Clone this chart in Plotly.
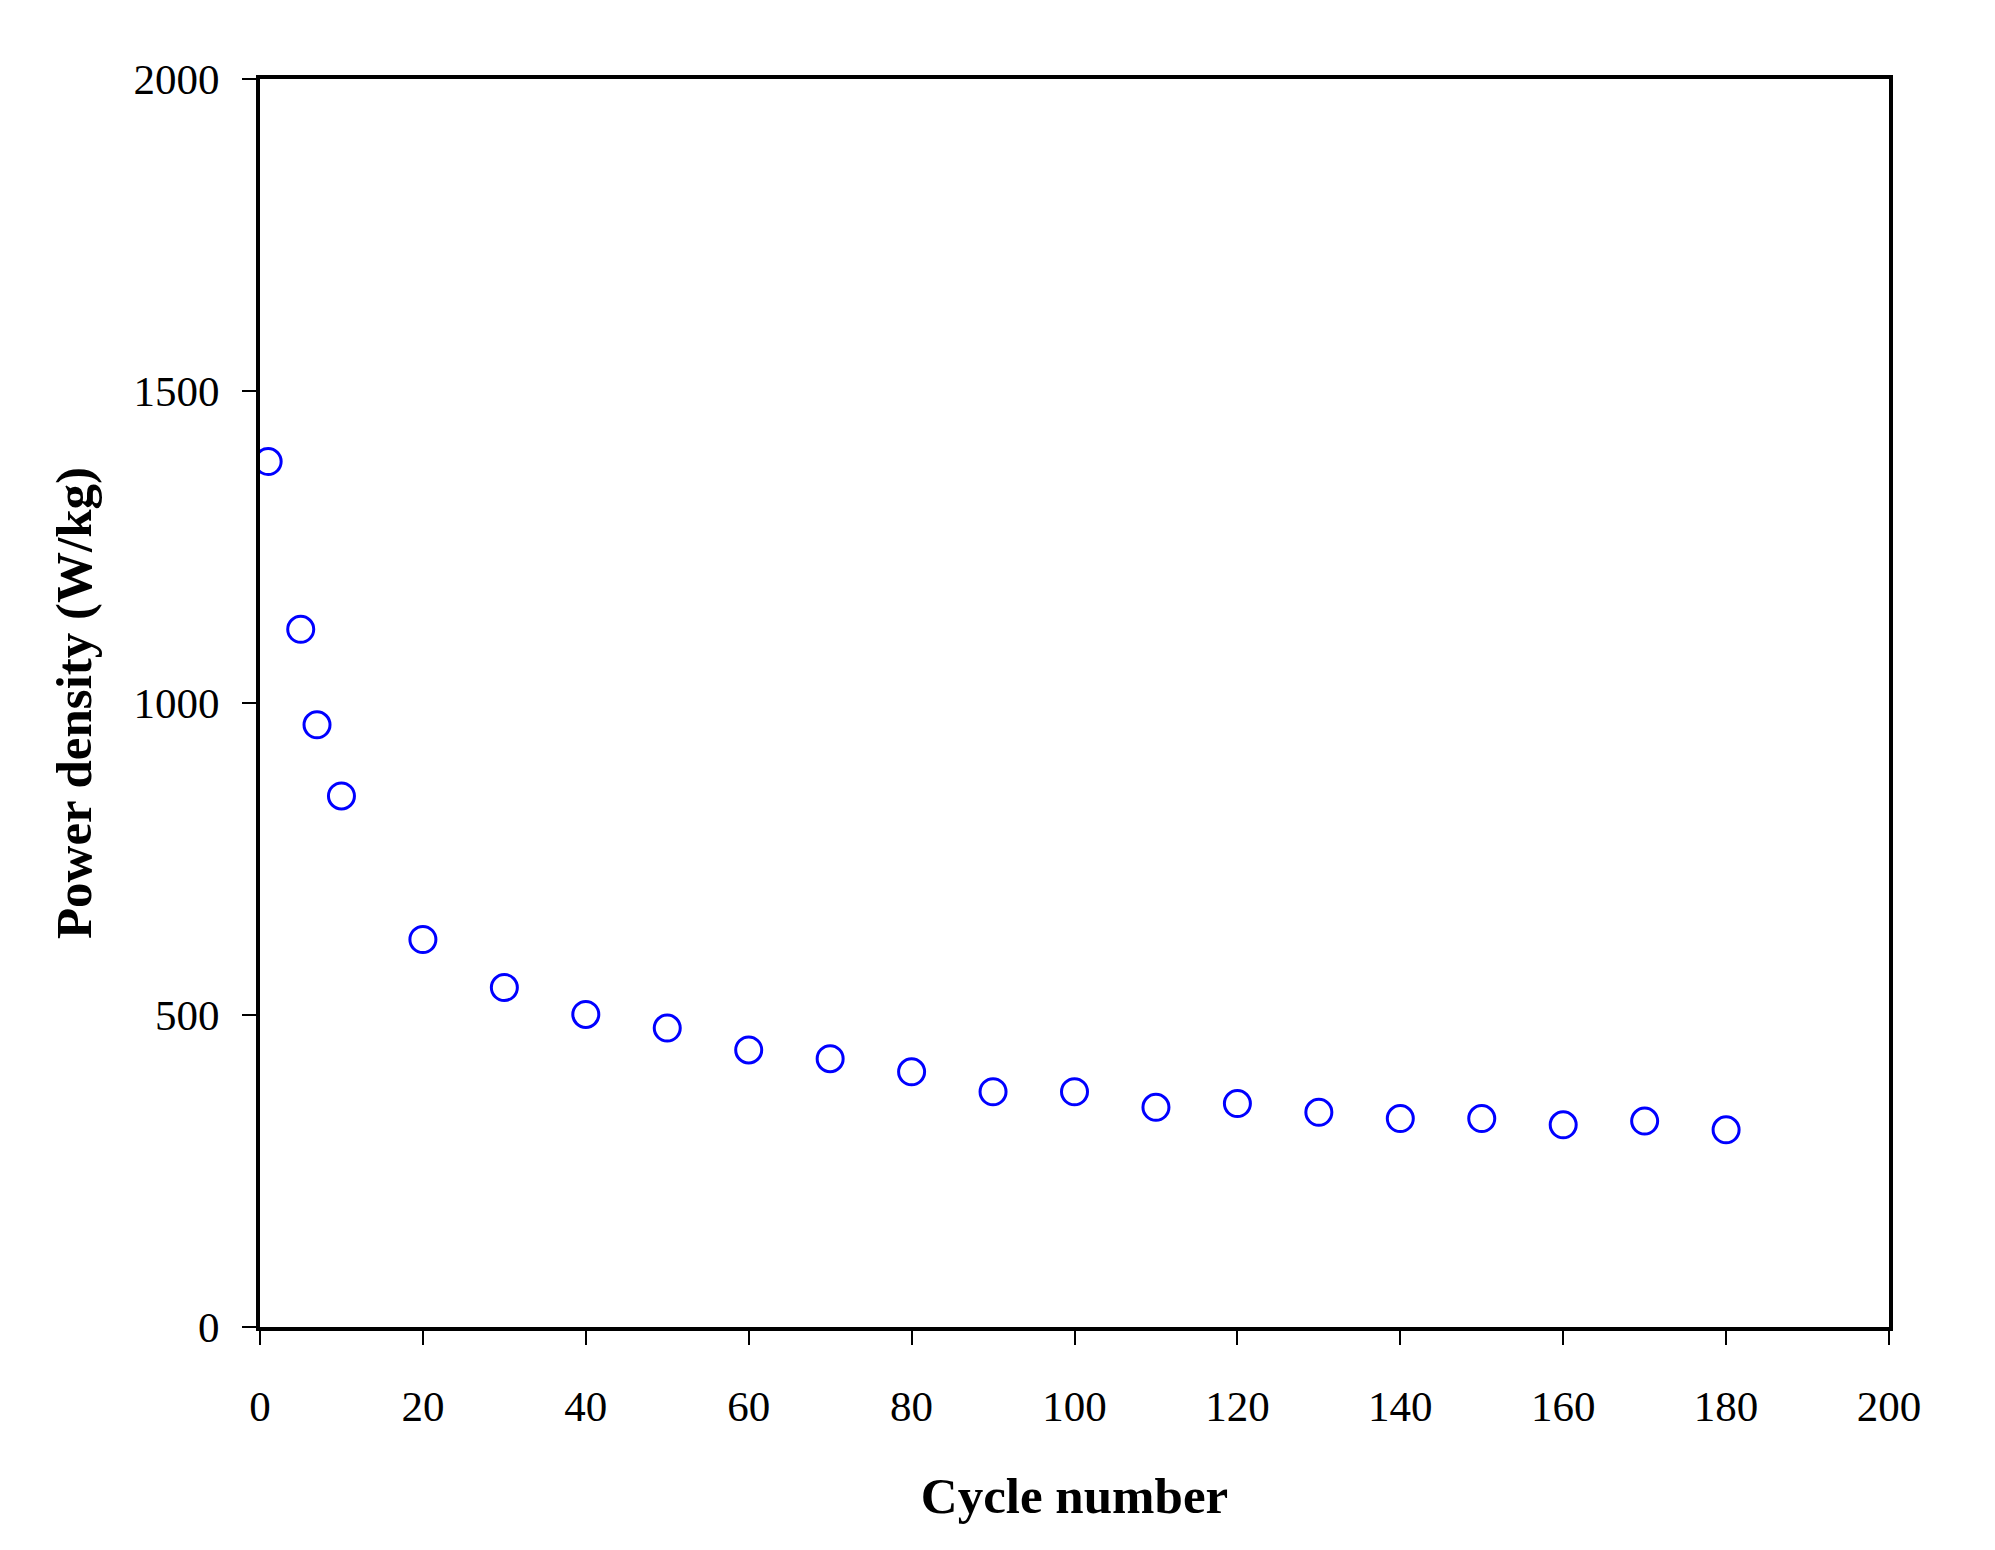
import plotly.graph_objects as go

# cycle number vs power density
cycles = [1, 5, 7, 10, 20, 30, 40, 50, 60, 70, 80, 90, 100,
          110, 120, 130, 140, 150, 160, 170, 180]
power_density = [1387, 1118, 965, 851, 621, 544, 501, 479, 444, 430, 409, 377, 377,
                 352, 358, 344, 334, 334, 324, 330, 316]

x_ticks = list(range(0, 201, 20))
y_ticks = [0, 500, 1000, 1500, 2000]

font_family = "Liberation Serif"

fig = go.Figure()
fig.add_trace(go.Scatter(
    x=cycles, y=power_density, mode="markers",
    marker=dict(symbol="circle-open", size=26, color="#0000ff",
                line=dict(width=3, color="#0000ff")),
    showlegend=False,
))

fig.update_xaxes(
    range=[0, 200], tickvals=x_ticks, ticks="outside", ticklen=14, tickwidth=2,
    tickcolor="black", showline=True, linewidth=4, linecolor="black", mirror=True,
    showgrid=False, zeroline=False, ticklabelstandoff=24,
    tickfont=dict(family=font_family, size=43, color="black"),
    title=dict(text="<b>Cycle number</b>", standoff=50,
               font=dict(family=font_family, size=51, color="black")),
)
fig.update_yaxes(
    range=[0, 2000], tickvals=y_ticks, ticks="outside", ticklen=14, tickwidth=2,
    tickcolor="black", showline=True, linewidth=4, linecolor="black", mirror=True,
    showgrid=False, zeroline=False, ticklabelstandoff=14,
    tickfont=dict(family=font_family, size=43, color="black"),
    title=dict(text="<b>Power density (W/kg)</b>", standoff=27,
               font=dict(family=font_family, size=51, color="black")),
)

fig.update_layout(
    width=1995, height=1550,
    margin=dict(l=252, r=114, t=71, b=231),
    plot_bgcolor="white", paper_bgcolor="white",
)

fig.write_html("out.html")
